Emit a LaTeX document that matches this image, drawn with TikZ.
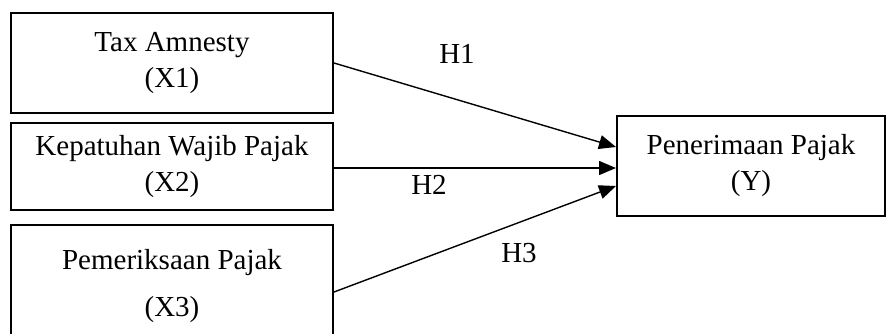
\documentclass[tikz,border=0pt]{standalone}
\usepackage{fontspec}
\setmainfont{Liberation Serif}
\usetikzlibrary{arrows.meta,calc}
\begin{document}
\begin{tikzpicture}[x=1pt,y=-1pt,
  box/.style={draw,line width=2pt,inner sep=0pt,align=center,
    font=\fontsize{29}{36}\selectfont},
  lbl/.style={inner sep=0pt,font=\fontsize{29}{34}\selectfont},
  arr/.style={line width=1.4pt,-{Triangle[length=17pt,width=14pt]}}]
\useasboundingbox (0,0) rectangle (886,333);
\clip (0,0) rectangle (886,333);
\node[box,minimum width=322pt,minimum height=100pt] (x1) at (172,63) {Tax Amnesty\\(X1)};
\node[box,minimum width=322pt,minimum height=87pt] (x2) at (172,166.5) {Kepatuhan Wajib Pajak\\(X2)};
\node[box,minimum width=322pt,minimum height=122pt] (x3) at (172,286) {Pemeriksaan Pajak\\[11pt](X3)};
\node[box,minimum width=268pt,minimum height=100pt] (y) at (751,166) {Penerimaan Pajak\\(Y)};
\draw[arr] (x1.east) -- ($(y.west)+(0,-19)$);
\draw[arr] ($(x2.east)+(0,1.5)$) -- ($(y.west)+(0,2)$);
\draw[arr] ($(x3.east)+(0,6)$) -- ($(y.west)+(0,20)$);
\node[lbl] (h1) at (457,54) {H1};
\node[lbl] (h2) at (429,185) {H2};
\node[lbl] (h3) at (519,253) {H3};
\end{tikzpicture}
\end{document}
